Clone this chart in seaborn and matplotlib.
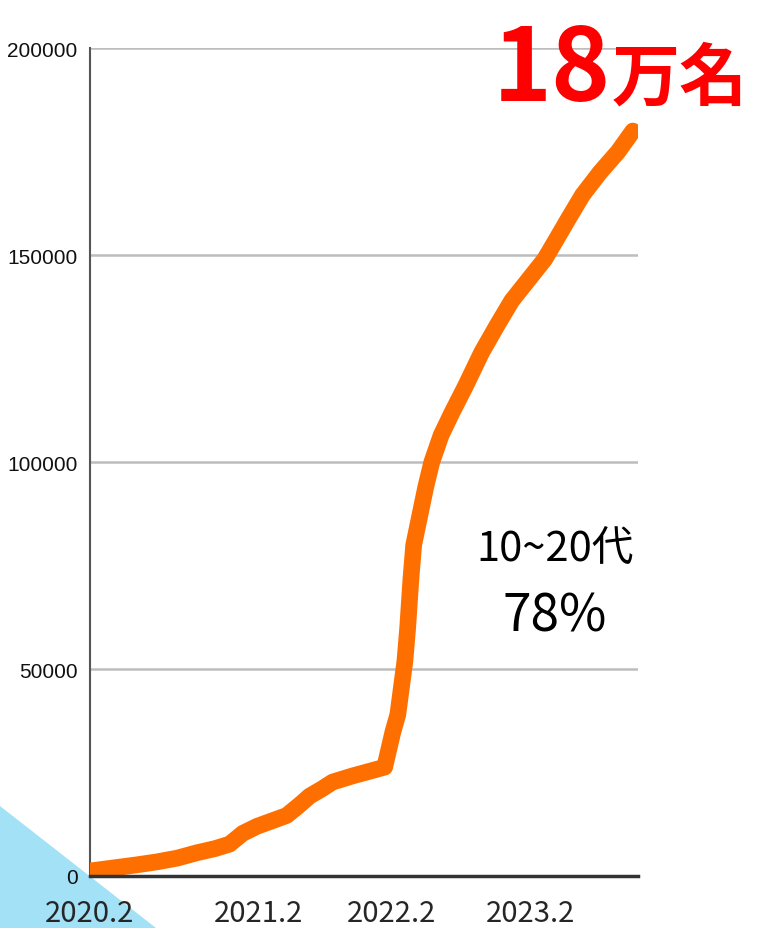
import matplotlib
matplotlib.use('Agg')
import matplotlib.pyplot as plt
from matplotlib import font_manager
from matplotlib.patches import Polygon
import seaborn as sns
import pandas as pd

# values (x = position along the period axis, 0..100)
period = [0.0, 4.6, 8.6, 12.2, 15.9, 19.5, 22.8, 25.5, 27.9, 30.5,
          33.2, 35.9, 38.3, 40.1, 42.3, 44.3, 48.0, 51.6, 53.8, 55.3,
          56.2, 56.9, 57.5, 58.0, 58.6, 59.1, 60.2, 61.3, 62.4, 64.1,
          66.1, 68.6, 71.5, 74.3, 77.0, 80.3, 83.0, 85.0, 87.2, 89.9,
          93.1, 96.4, 99.1]
members = [1200, 2000, 2700, 3400, 4300, 5600, 6600, 7700, 10300, 12000,
           13300, 14600, 17200, 19300, 21000, 22700, 24200, 25500, 26300, 34800,
           39000, 46000, 52000, 60000, 72000, 80000, 87000, 94000, 100000, 106500,
           112000, 118500, 126500, 133000, 139000, 144500, 149000, 153500, 158500, 164500,
           170000, 175000, 180000]

tick_pos = [0.0, 30.7, 55.0, 80.5]
tick_labels = ['2020.2', '2021.2', '2022.2', '2023.2']
y_ticks = [0, 50000, 100000, 150000, 200000]

df = pd.DataFrame({'period': period, 'members': members})

sns.set_style('white')
installed = {f.name for f in font_manager.fontManager.ttflist}
num_font = 'Liberation Sans Narrow' if 'Liberation Sans Narrow' in installed else 'Liberation Sans'
num_size = 19 if num_font == 'Liberation Sans Narrow' else 15
plt.rcParams['font.family'] = ['Noto Sans CJK JP', 'DejaVu Sans']

fig = plt.figure(figsize=(7.62, 9.29), dpi=100)

# light blue corner triangle
tri = Polygon([(0, 1 - 807 / 929), (156 / 762, 0), (0, 0)], closed=True,
              transform=fig.transFigure, facecolor='#a3e1f7', edgecolor='none', zorder=0)
fig.patches.append(tri)

ax = fig.add_axes([0.118, 0.056, 0.719, 0.891])
ax.set_zorder(1)

sns.lineplot(data=df, x='period', y='members', color='#ff6f00', linewidth=12,
             ax=ax, solid_capstyle='round', solid_joinstyle='round', zorder=3)

ax.set_xlim(0, 100)
ax.set_ylim(0, 200000)
ax.set_yticks(y_ticks)
ax.set_yticklabels([str(v) for v in y_ticks], family=num_font, fontsize=num_size)
ax.set_xticks(tick_pos)
ax.set_xticklabels(tick_labels, fontsize=21)
ax.set_xlabel('')
ax.set_ylabel('')

ax.xaxis.grid(False)
ax.yaxis.grid(False)
for y in y_ticks[1:]:
    ax.axhline(y, color='#bdbdbd', linewidth=1.8, zorder=1)

ax.tick_params(axis='y', length=0, pad=9, colors='#111111')
ax.tick_params(axis='x', direction='inout', length=21, width=1.0, color='black', pad=5)
ax.xaxis.get_major_ticks()[0].tick1line.set_visible(False)

sns.despine(ax=ax, top=True, right=True)
ax.spines['left'].set_color('#555555')
ax.spines['left'].set_linewidth(1.5)
ax.spines['bottom'].set_color('#333333')
ax.spines['bottom'].set_linewidth(2.5)
ax.spines['bottom'].set_zorder(4)

# handwritten-style annotations
fig.text(493 / 762, 1 - 101 / 929, '18', color='#ff0000', fontsize=72,
         fontweight='bold', ha='left', va='baseline')
fig.text(612 / 762, 1 - 100 / 929, '万名', color='#ff0000', fontsize=49,
         fontweight='bold', ha='left', va='baseline')
fig.text(555 / 762, 1 - 550 / 929, '10~20代', color='black', fontsize=30,
         ha='center', va='center')
fig.text(555 / 762, 1 - 617 / 929, '78%', color='black', fontsize=37,
         ha='center', va='center')

fig.savefig('out.png', dpi=100)
